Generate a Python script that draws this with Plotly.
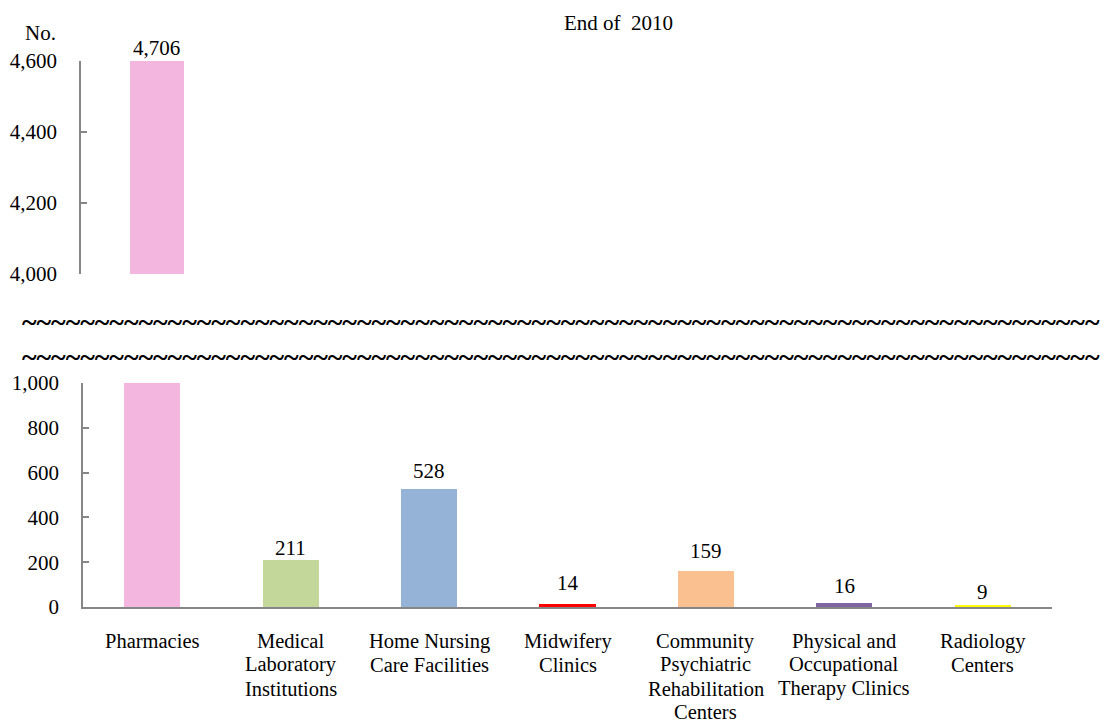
import plotly.graph_objects as go

# Number of facilities by type, end of 2010
categories = [
    ["Pharmacies"],
    ["Medical", "Laboratory", "Institutions"],
    ["Home Nursing", "Care Facilities"],
    ["Midwifery", "Clinics"],
    ["Community", "Psychiatric", "Rehabilitation", "Centers"],
    ["Physical and", "Occupational", "Therapy Clinics"],
    ["Radiology", "Centers"],
]
counts = [4706, 211, 528, 14, 159, 16, 9]
bar_colors = ["#F3B6DF", "#C4D79B", "#95B3D7", "#FF0000", "#FAC090", "#8064A2", "#FFFF00"]

y_ticks_low = [0, 200, 400, 600, 800, 1000]
y_ticks_high = [4000, 4200, 4400, 4600]

# pixel lift of each value label above its bar top
label_lift = [13, 12, 18, 21, 20, 17, 13]

FONT = "Liberation Serif, Times New Roman, DejaVu Serif, serif"
FS = 21
AXIS_GREY = "#868686"

W, H = 1108, 724
low_range = [0, 1000]
high_range = [4000, 4600]

fig = go.Figure()
xs = list(range(len(categories)))

# lower panel: full category set, clipped at 1,000
fig.add_trace(go.Bar(
    x=xs, y=counts, marker=dict(color=bar_colors, line=dict(width=0)),
    width=0.405, xaxis="x", yaxis="y", showlegend=False, hoverinfo="y",
))
# upper panel: only the first category rises into the 4,000+ band
fig.add_trace(go.Bar(
    x=[0], y=[counts[0]], marker=dict(color=bar_colors[0], line=dict(width=0)),
    width=0.39, xaxis="x2", yaxis="y2", showlegend=False, hoverinfo="y",
))

annotations = []
for i, v in enumerate(counts):
    if v > low_range[1]:
        xr, yr, top = "x2", "y2", min(v, high_range[1])
    else:
        xr, yr, top = "x", "y", v
    annotations.append(dict(
        x=i, y=top, xref=xr, yref=yr, text=f"{v:,}", showarrow=False,
        yanchor="middle", yshift=label_lift[i],
        font=dict(family=FONT, size=FS, color="black"),
    ))

# category names under the lower axis, one line per annotation (tight leading)
first_line_px, line_step_px = 641, 23.8
for i, lines in enumerate(categories):
    for k, line in enumerate(lines):
        annotations.append(dict(
            x=i, xref="x", y=1 - (first_line_px + k * line_step_px) / H, yref="paper",
            text=line, showarrow=False, xanchor="center", yanchor="middle",
            borderpad=0,
            font=dict(family=FONT, size=20.5, color="black"),
        ))

annotations.append(dict(
    x=618 / W, y=1 - 23 / H, xref="paper", yref="paper", text="End of  2010",
    showarrow=False, xanchor="center", yanchor="middle",
    font=dict(family=FONT, size=FS, color="black"),
))
annotations.append(dict(
    x=40 / W, y=1 - 33 / H, xref="paper", yref="paper", text="No.",
    showarrow=False, xanchor="center", yanchor="middle",
    font=dict(family=FONT, size=FS, color="black"),
))
# axis-break marks
for yy in (322, 356):
    annotations.append(dict(
        x=20 / W, y=1 - yy / H, xref="paper", yref="paper", text="~" * 74,
        showarrow=False, xanchor="left", yanchor="middle",
        font=dict(family=FONT, size=28, color="black", weight="bold"),
    ))

axis_font = dict(family=FONT, size=FS, color="black")

fig.update_layout(
    width=W, height=H,
    margin=dict(l=0, r=0, t=0, b=0, autoexpand=False),
    paper_bgcolor="white", plot_bgcolor="white",
    bargap=0,
    annotations=annotations,
    xaxis=dict(
        domain=[83 / W, 1052 / W], range=[-0.5, 6.5],
        showticklabels=False,
        showline=True, linecolor=AXIS_GREY, linewidth=2,
        ticks="", showgrid=False, zeroline=False,
        automargin=False, anchor="y",
    ),
    yaxis=dict(
        domain=[1 - 607 / H, 1 - 383 / H], range=low_range,
        tickmode="array", tickvals=y_ticks_low,
        ticktext=[f"{t:,}" for t in y_ticks_low],
        showline=True, linecolor=AXIS_GREY, linewidth=1.5,
        ticks="inside", ticklen=6, tickcolor=AXIS_GREY, tickwidth=1.5,
        showgrid=False, zeroline=False,
        tickfont=axis_font, ticklabelstandoff=18,
        automargin=False, anchor="x",
    ),
    xaxis2=dict(
        domain=[81 / W, 1052 / W], range=[-0.549, 6.467],
        showline=False, showticklabels=False, ticks="",
        showgrid=False, zeroline=False, automargin=False, anchor="y2",
    ),
    yaxis2=dict(
        domain=[1 - 274 / H, 1 - 61 / H], range=high_range,
        tickmode="array", tickvals=y_ticks_high,
        ticktext=[f"{t:,}" for t in y_ticks_high],
        showline=True, linecolor=AXIS_GREY, linewidth=1.5,
        ticks="inside", ticklen=6, tickcolor=AXIS_GREY, tickwidth=1.5,
        showgrid=False, zeroline=False,
        tickfont=axis_font, ticklabelstandoff=18,
        automargin=False, anchor="x2",
    ),
)

fig.write_html("out.html")
